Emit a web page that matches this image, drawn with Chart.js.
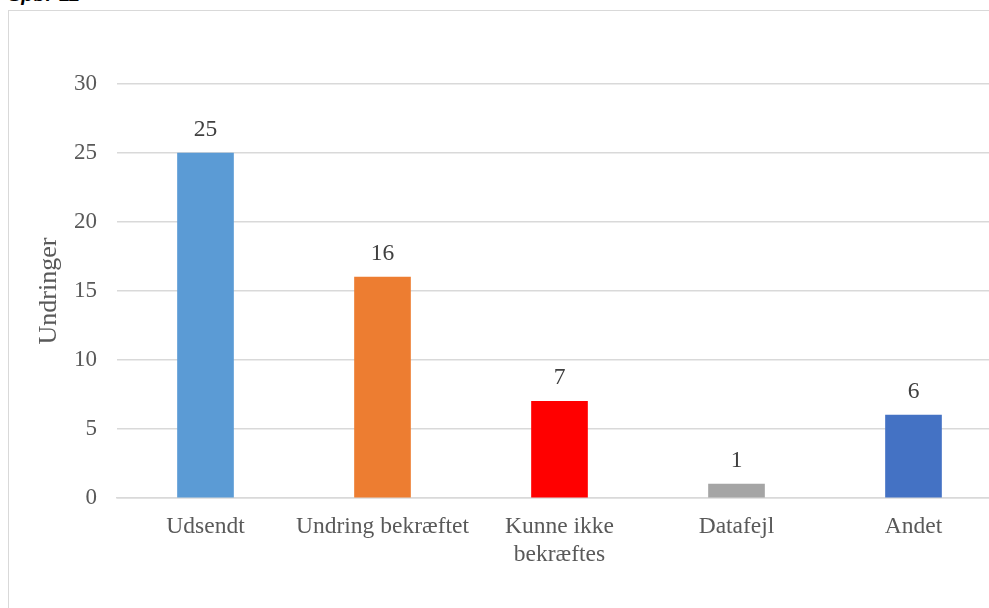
<!DOCTYPE html>
<html>
<head>
<meta charset="utf-8">
<script src="https://cdn.jsdelivr.net/npm/chart.js@4.4.1/dist/chart.umd.min.js"></script>
<style>
  html, body { margin: 0; padding: 0; background: #fff; overflow: hidden; width: 989px; height: 608px; }
  #title { position: absolute; left: 8px; top: -17px; font: italic bold 20px "Liberation Sans", Arial, sans-serif; color: #000; white-space: nowrap; }
  #frame { position: absolute; left: 8px; top: 10px; width: 1100px; height: 700px; border: 1px solid #d9d9d9; box-sizing: border-box; }
  #wrap { position: absolute; left: 0; top: 0; width: 1010px; height: 608px; }
  #probe { position: absolute; left: -999px; top: 0; font: 23px "Liberation Serif"; }
</style>
</head>
<body>
<div id="title">Spør 11</div>
<div id="probe">Udsendt 0123456789</div>
<div id="frame"></div>
<div id="wrap"><canvas id="c" width="1010" height="608"></canvas></div>
<script>
const categories = ["Udsendt", "Undring bekræftet", ["Kunne ikke", "bekræftes"], "Datafejl", "Andet"];
const values = [25, 16, 7, 1, 6];
const barColors = ["#5B9BD5", "#ED7D31", "#FF0000", "#A5A5A5", "#4472C4"];
const yTicks = [0, 5, 10, 15, 20, 25, 30];
const yTitle = "Undringer";

const serif = '"Liberation Serif", "Times New Roman", serif';

const valueLabels = {
  id: 'valueLabels',
  afterDatasetsDraw(chart) {
    const ctx = chart.ctx;
    const meta = chart.getDatasetMeta(0);
    ctx.save();
    ctx.font = '23.5px "Liberation Serif", serif';
    ctx.fillStyle = "#404040";
    ctx.textAlign = "center";
    ctx.textBaseline = "alphabetic";
    meta.data.forEach((bar, i) => {
      ctx.fillText(String(values[i]), bar.x, bar.y - 17);
    });
    ctx.restore();
  }
};

function build() {
  new Chart(document.getElementById('c'), {
    type: 'bar',
    data: {
      labels: categories,
      datasets: [{
        data: values,
        backgroundColor: barColors,
        borderWidth: 0,
        barThickness: 56
      }]
    },
    options: {
      responsive: false,
      animation: false,
      devicePixelRatio: 1,
      layout: { padding: { top: 84, right: 8, bottom: 0, left: 0 } },
      plugins: { legend: { display: false }, tooltip: { enabled: false } },
      scales: {
        x: {
          grid: { display: false, drawTicks: false },
          border: { display: true, color: '#d9d9d9', width: 1.5 },
          ticks: { color: '#595959', font: { family: serif, size: 23.5, lineHeight: 1.2 }, padding: 15, maxRotation: 0, autoSkip: false },
          afterFit(scale) { scale.height = 110; }
        },
        y: {
          min: 0, max: 30,
          afterBuildTicks(scale) { scale.ticks = yTicks.map(v => ({ value: v })); },
          grid: { color: '#d9d9d9', lineWidth: 1.5, drawTicks: false },
          border: { display: false },
          ticks: { color: '#595959', font: { family: serif, size: 23 }, padding: 20 },
          title: { display: true, text: yTitle, color: '#595959', font: { family: serif, size: 26 }, padding: { top: 34, bottom: 0 } },
          afterFit(scale) { scale.width = 117; }
        }
      }
    },
    plugins: [valueLabels]
  });
}

Promise.all([
  document.fonts.load('23px "Liberation Serif"'),
  document.fonts.load('italic bold 20px "Liberation Sans"')
]).then(build, build);
</script>
</body>
</html>
